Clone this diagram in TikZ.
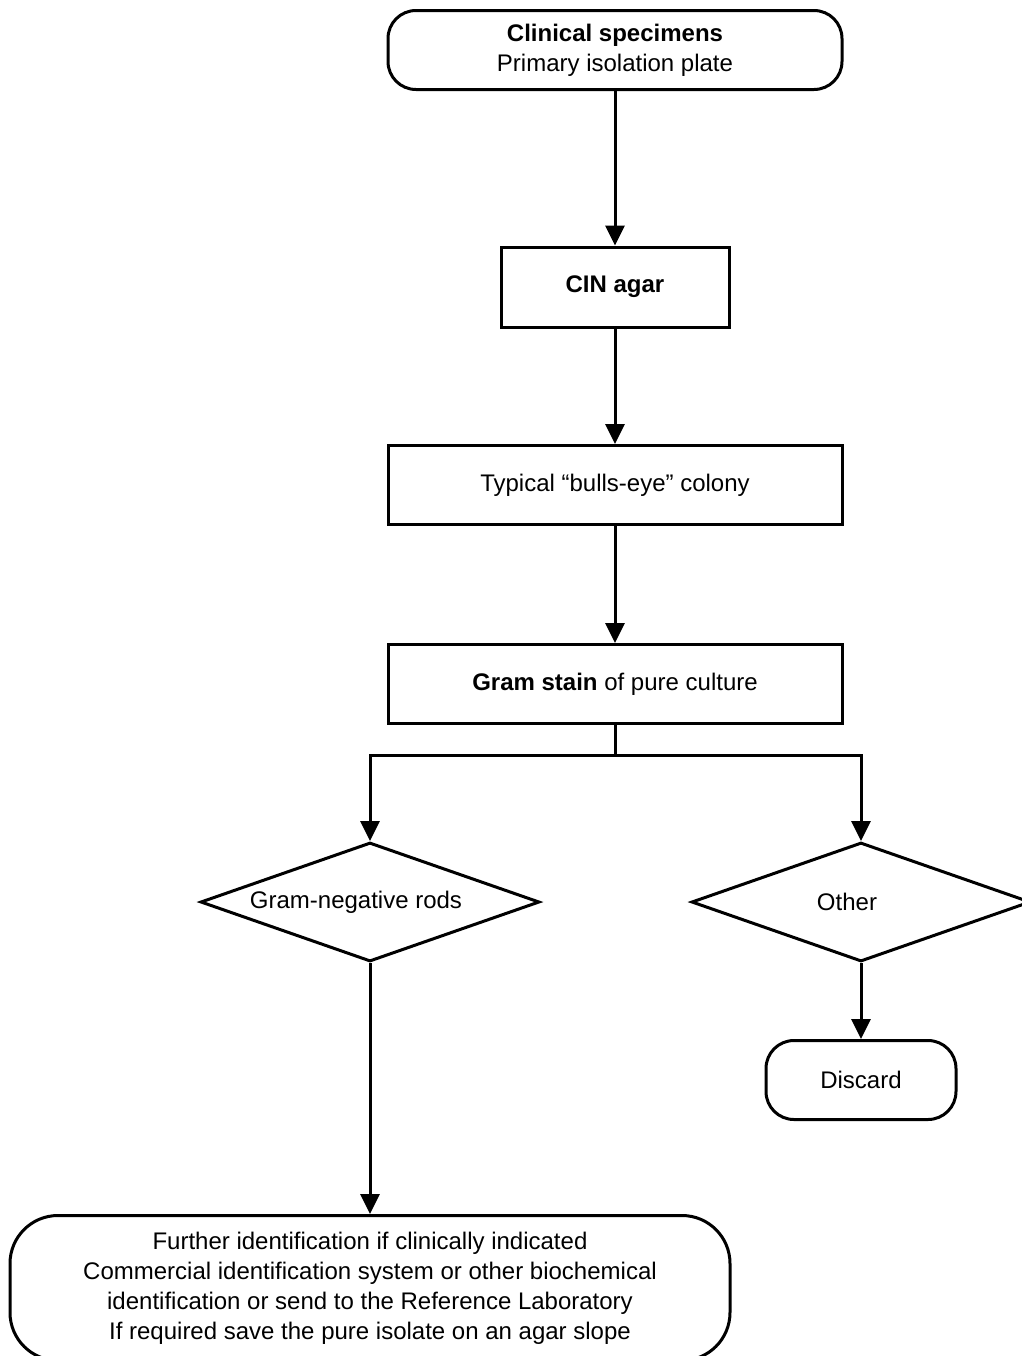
\documentclass[tikz,border=0pt]{standalone}
\usepackage{fontspec}
\setmainfont{Liberation Sans}
\usetikzlibrary{shapes.geometric,arrows.meta}

\begin{document}
\begin{tikzpicture}[x=1pt,y=1pt,line width=1.5pt,node distance=99pt,
    >={Triangle[length=10pt,width=9.5pt]},
    font=\fontsize{12}{15}\selectfont,
    term/.style={draw,rounded corners=14pt,align=center,inner sep=0pt},
    proc/.style={draw,align=center,inner sep=0pt},
    dec/.style={draw,diamond,aspect=2.85,inner sep=0pt,minimum width=169.5pt,minimum height=59.5pt}]
      \useasboundingbox (0,0) rectangle (511,-678);

      \node[term,minimum width=227pt,minimum height=39.5pt] (1) at (307.5,-25) {\textbf{Clinical specimens}\\Primary isolation plate};
      \node[proc,below of=1,yshift=-19.5pt,minimum width=114pt,minimum height=40pt] (2) {\textbf{CIN agar}};
      \node[proc,below of=2,minimum width=227pt,minimum height=39.5pt] (3) {Typical “bulls-eye” colony};
      \node[proc,below of=3,yshift=-0.5pt,minimum width=227pt,minimum height=39.5pt] (4) {\textbf{Gram stain} of pure culture};
      \node[dec,below of=4,xshift=-122.5pt,yshift=-10pt] (5) {Gram-negative rods\kern14pt};
      \node[dec,right of=5,xshift=146.5pt] (6) {Other\kern14pt};
      \node[term,below of=6,yshift=10pt,minimum width=95pt,minimum height=39.5pt] (7) {Discard};
      \node[term,below of=5,yshift=-94pt,rounded corners=24pt,minimum width=360pt,minimum height=72.5pt] (8)
        {Further identification if clinically indicated\\Commercial identification system or other biochemical\\identification or send to the Reference Laboratory\\If required save the pure isolate on an agar slope};

      \draw[->] (1) -- (2);
      \draw[->] (2) -- (3);
      \draw[->] (3) -- (4);
      \draw[->] (4.south) -- ++(0,-15) -| (5.north);
      \draw[->] (4.south) -- ++(0,-15) -| (6.north);
      \draw[->] (5) -- (8);
      \draw[->] (6) -- (7);
    \end{tikzpicture}
\end{document}
